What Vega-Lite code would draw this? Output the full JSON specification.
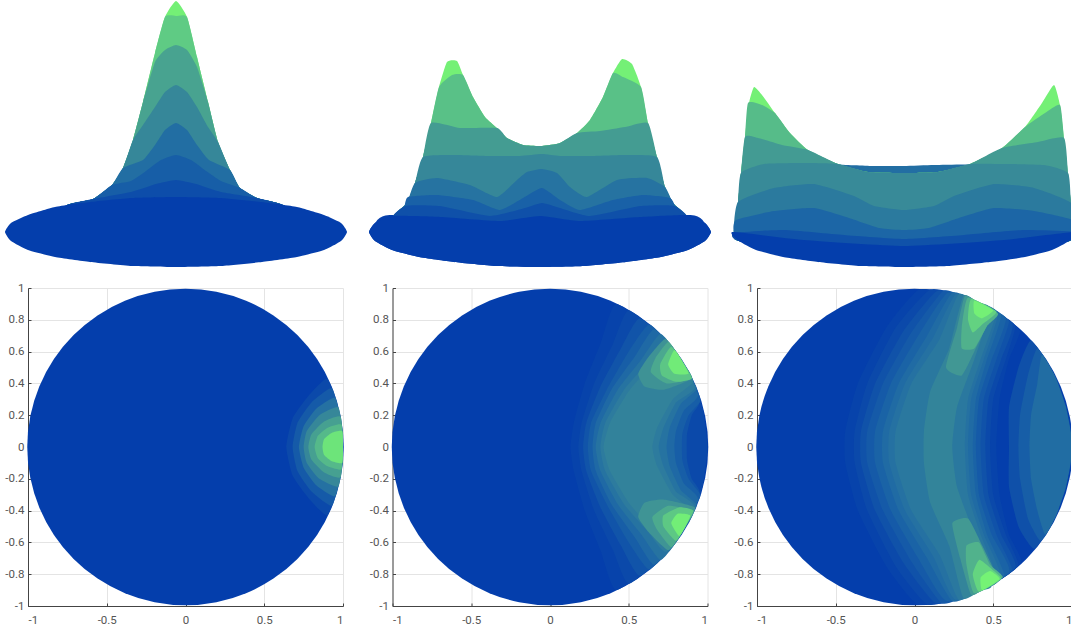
{"$schema":"https://vega.github.io/schema/vega-lite/v6.json","padding":{"left":4,"top":0,"right":0,"bottom":0},"background":"white","config":{"view":{"stroke":null},"concat":{"spacing":0},"axis":{"labelFont":"Roboto","labelFontSize":11.5,"labelColor":"#555555","gridColor":"#e4e4e4","gridWidth":1,"domainColor":"#444444","tickColor":"#444444","title":null}},
"datasets":{
"t1":[{"v":0.97,"x":0,"y":267},{"v":0.97,"x":11,"y":251},{"v":0.97,"x":21,"y":211},{"v":0.97,"x":32,"y":166},{"v":0.97,"x":42,"y":126},{"v":0.97,"x":54,"y":98},{"v":0.97,"x":64,"y":80},{"v":0.97,"x":81,"y":70},{"v":0.97,"x":107,"y":63},{"v":0.97,"x":115,"y":48},{"v":0.97,"x":0,"y":40},{"v":0.97,"x":-115,"y":48},{"v":0.97,"x":-109,"y":63},{"v":0.97,"x":-83,"y":69},{"v":0.97,"x":-64,"y":83},{"v":0.97,"x":-53,"y":100},{"v":0.97,"x":-43,"y":128},{"v":0.97,"x":-33,"y":166},{"v":0.97,"x":-21,"y":215},{"v":0.97,"x":-11,"y":251},
{"v":0.82,"x":-11,"y":251},{"v":0.82,"x":0,"y":252},{"v":0.82,"x":11,"y":251},{"v":0.82,"x":21,"y":211},{"v":0.82,"x":32,"y":166},{"v":0.82,"x":42,"y":126},{"v":0.82,"x":54,"y":98},{"v":0.82,"x":64,"y":80},{"v":0.82,"x":81,"y":70},{"v":0.82,"x":107,"y":63},{"v":0.82,"x":115,"y":48},{"v":0.82,"x":0,"y":40},{"v":0.82,"x":-115,"y":48},{"v":0.82,"x":-109,"y":63},{"v":0.82,"x":-83,"y":69},{"v":0.82,"x":-64,"y":83},{"v":0.82,"x":-53,"y":100},{"v":0.82,"x":-43,"y":128},{"v":0.82,"x":-33,"y":166},{"v":0.82,"x":-21,"y":215},
{"v":0.62,"x":-33,"y":166},{"v":0.62,"x":-21,"y":206},{"v":0.62,"x":-11,"y":218},{"v":0.62,"x":0,"y":223},{"v":0.62,"x":11,"y":218},{"v":0.62,"x":21,"y":201},{"v":0.62,"x":32,"y":166},{"v":0.62,"x":42,"y":126},{"v":0.62,"x":54,"y":98},{"v":0.62,"x":64,"y":80},{"v":0.62,"x":81,"y":70},{"v":0.62,"x":107,"y":63},{"v":0.62,"x":115,"y":48},{"v":0.62,"x":0,"y":40},{"v":0.62,"x":-115,"y":48},{"v":0.62,"x":-109,"y":63},{"v":0.62,"x":-83,"y":69},{"v":0.62,"x":-64,"y":83},{"v":0.62,"x":-53,"y":100},{"v":0.62,"x":-43,"y":128},
{"v":0.45,"x":-43,"y":128},{"v":0.45,"x":-33,"y":143},{"v":0.45,"x":-21,"y":161},{"v":0.45,"x":-11,"y":176},{"v":0.45,"x":0,"y":183},{"v":0.45,"x":11,"y":176},{"v":0.45,"x":21,"y":161},{"v":0.45,"x":32,"y":141},{"v":0.45,"x":42,"y":126},{"v":0.45,"x":54,"y":98},{"v":0.45,"x":64,"y":80},{"v":0.45,"x":81,"y":70},{"v":0.45,"x":107,"y":63},{"v":0.45,"x":115,"y":48},{"v":0.45,"x":0,"y":40},{"v":0.45,"x":-115,"y":48},{"v":0.45,"x":-109,"y":63},{"v":0.45,"x":-83,"y":69},{"v":0.45,"x":-64,"y":83},{"v":0.45,"x":-53,"y":100},
{"v":0.3,"x":-53,"y":100},{"v":0.3,"x":-33,"y":108},{"v":0.3,"x":-21,"y":123},{"v":0.3,"x":-11,"y":138},{"v":0.3,"x":0,"y":145},{"v":0.3,"x":11,"y":138},{"v":0.3,"x":21,"y":123},{"v":0.3,"x":33,"y":108},{"v":0.3,"x":54,"y":98},{"v":0.3,"x":64,"y":80},{"v":0.3,"x":81,"y":70},{"v":0.3,"x":107,"y":63},{"v":0.3,"x":115,"y":48},{"v":0.3,"x":0,"y":40},{"v":0.3,"x":-115,"y":48},{"v":0.3,"x":-109,"y":63},{"v":0.3,"x":-83,"y":69},{"v":0.3,"x":-64,"y":83},
{"v":0.2,"x":-64,"y":83},{"v":0.2,"x":-45,"y":87},{"v":0.2,"x":-30,"y":97},{"v":0.2,"x":-15,"y":108},{"v":0.2,"x":0,"y":113},{"v":0.2,"x":15,"y":108},{"v":0.2,"x":30,"y":97},{"v":0.2,"x":45,"y":87},{"v":0.2,"x":64,"y":80},{"v":0.2,"x":81,"y":70},{"v":0.2,"x":107,"y":63},{"v":0.2,"x":115,"y":48},{"v":0.2,"x":0,"y":40},{"v":0.2,"x":-115,"y":48},{"v":0.2,"x":-109,"y":63},{"v":0.2,"x":-83,"y":69},
{"v":0.1,"x":-83,"y":69},{"v":0.1,"x":-45,"y":76},{"v":0.1,"x":-20,"y":84},{"v":0.1,"x":0,"y":88},{"v":0.1,"x":20,"y":84},{"v":0.1,"x":45,"y":76},{"v":0.1,"x":81,"y":70},{"v":0.1,"x":107,"y":63},{"v":0.1,"x":115,"y":48},{"v":0.1,"x":0,"y":40},{"v":0.1,"x":-115,"y":48},{"v":0.1,"x":-109,"y":63},
{"v":0.05,"x":-109,"y":63},{"v":0.05,"x":-30,"y":68},{"v":0.05,"x":0,"y":71},{"v":0.05,"x":30,"y":68},{"v":0.05,"x":107,"y":63},{"v":0.05,"x":115,"y":48},{"v":0.05,"x":0,"y":40},{"v":0.05,"x":-115,"y":48},
{"v":0.01,"x":-171,"y":36},{"v":0.01,"x":-165,"y":45},{"v":0.01,"x":-148,"y":53},{"v":0.01,"x":-121,"y":61},{"v":0.01,"x":-86,"y":66},{"v":0.01,"x":-44,"y":70},{"v":0.01,"x":0,"y":71},{"v":0.01,"x":44,"y":70},{"v":0.01,"x":86,"y":66},{"v":0.01,"x":121,"y":61},{"v":0.01,"x":148,"y":53},{"v":0.01,"x":165,"y":45},{"v":0.01,"x":171,"y":36},{"v":0.01,"x":165,"y":27},{"v":0.01,"x":148,"y":18},{"v":0.01,"x":121,"y":11},{"v":0.01,"x":86,"y":6},{"v":0.01,"x":44,"y":2},{"v":0.01,"x":0,"y":1},{"v":0.01,"x":-44,"y":2},{"v":0.01,"x":-86,"y":6},{"v":0.01,"x":-121,"y":11},{"v":0.01,"x":-148,"y":18},{"v":0.01,"x":-165,"y":27}],
"t2":[{"v":0.02,"x":-171,"y":36},{"v":0.02,"x":-165,"y":45},{"v":0.02,"x":-148,"y":53},{"v":0.02,"x":0,"y":45},{"v":0.02,"x":148,"y":53},{"v":0.02,"x":165,"y":45},{"v":0.02,"x":171,"y":36},{"v":0.02,"x":165,"y":27},{"v":0.02,"x":148,"y":18},{"v":0.02,"x":121,"y":11},{"v":0.02,"x":86,"y":6},{"v":0.02,"x":44,"y":2},{"v":0.02,"x":0,"y":1},{"v":0.02,"x":-44,"y":2},{"v":0.02,"x":-86,"y":6},{"v":0.02,"x":-121,"y":11},{"v":0.02,"x":-148,"y":18},{"v":0.02,"x":-165,"y":27},
{"v":0.97,"x":-133,"y":65},{"v":0.97,"x":-125,"y":85},{"v":0.97,"x":-117,"y":111},{"v":0.97,"x":-109,"y":145},{"v":0.97,"x":-101,"y":181},{"v":0.97,"x":-93,"y":206},{"v":0.97,"x":-83,"y":207},{"v":0.97,"x":-77,"y":193},{"v":0.97,"x":-67,"y":171},{"v":0.97,"x":-55,"y":151},{"v":0.97,"x":-43,"y":140},{"v":0.97,"x":-33,"y":130},{"v":0.97,"x":-17,"y":123},{"v":0.97,"x":2,"y":122},{"v":0.97,"x":20,"y":125},{"v":0.97,"x":37,"y":135},{"v":0.97,"x":50,"y":148},{"v":0.97,"x":63,"y":171},{"v":0.97,"x":73,"y":195},{"v":0.97,"x":82,"y":209},{"v":0.97,"x":92,"y":204},{"v":0.97,"x":101,"y":181},{"v":0.97,"x":108,"y":145},{"v":0.97,"x":117,"y":111},{"v":0.97,"x":125,"y":81},{"v":0.97,"x":133,"y":65},{"v":0.97,"x":145,"y":45},{"v":0.97,"x":0,"y":30},{"v":0.97,"x":-145,"y":45},
{"v":0.78,"x":-133,"y":65},{"v":0.78,"x":-125,"y":85},{"v":0.78,"x":-117,"y":111},{"v":0.78,"x":-109,"y":145},{"v":0.78,"x":-101,"y":181},{"v":0.78,"x":-88,"y":193},{"v":0.78,"x":-77,"y":193},{"v":0.78,"x":-67,"y":171},{"v":0.78,"x":-55,"y":151},{"v":0.78,"x":-43,"y":140},{"v":0.78,"x":-33,"y":130},{"v":0.78,"x":-17,"y":123},{"v":0.78,"x":2,"y":122},{"v":0.78,"x":20,"y":125},{"v":0.78,"x":37,"y":135},{"v":0.78,"x":50,"y":148},{"v":0.78,"x":63,"y":171},{"v":0.78,"x":73,"y":195},{"v":0.78,"x":83,"y":191},{"v":0.78,"x":101,"y":181},{"v":0.78,"x":108,"y":145},{"v":0.78,"x":117,"y":111},{"v":0.78,"x":125,"y":81},{"v":0.78,"x":133,"y":65},{"v":0.78,"x":145,"y":45},{"v":0.78,"x":0,"y":30},{"v":0.78,"x":-145,"y":45},
{"v":0.58,"x":-133,"y":65},{"v":0.58,"x":-125,"y":85},{"v":0.58,"x":-117,"y":111},{"v":0.58,"x":-109,"y":145},{"v":0.58,"x":-80,"y":140},{"v":0.58,"x":-43,"y":140},{"v":0.58,"x":-33,"y":130},{"v":0.58,"x":-17,"y":123},{"v":0.58,"x":2,"y":122},{"v":0.58,"x":20,"y":125},{"v":0.58,"x":37,"y":135},{"v":0.58,"x":60,"y":137},{"v":0.58,"x":85,"y":141},{"v":0.58,"x":108,"y":145},{"v":0.58,"x":117,"y":111},{"v":0.58,"x":125,"y":81},{"v":0.58,"x":133,"y":65},{"v":0.58,"x":145,"y":45},{"v":0.58,"x":0,"y":30},{"v":0.58,"x":-145,"y":45},
{"v":0.45,"x":-133,"y":65},{"v":0.45,"x":-125,"y":85},{"v":0.45,"x":-117,"y":111},{"v":0.45,"x":-85,"y":113},{"v":0.45,"x":-50,"y":112},{"v":0.45,"x":-20,"y":112},{"v":0.45,"x":2,"y":114},{"v":0.45,"x":20,"y":112},{"v":0.45,"x":50,"y":112},{"v":0.45,"x":85,"y":113},{"v":0.45,"x":117,"y":111},{"v":0.45,"x":125,"y":81},{"v":0.45,"x":133,"y":65},{"v":0.45,"x":145,"y":45},{"v":0.45,"x":0,"y":30},{"v":0.45,"x":-145,"y":45},
{"v":0.33,"x":-133,"y":65},{"v":0.33,"x":-125,"y":85},{"v":0.33,"x":-103,"y":90},{"v":0.33,"x":-70,"y":83},{"v":0.33,"x":-43,"y":71},{"v":0.33,"x":-23,"y":88},{"v":0.33,"x":-13,"y":96},{"v":0.33,"x":2,"y":99},{"v":0.33,"x":17,"y":95},{"v":0.33,"x":30,"y":81},{"v":0.33,"x":47,"y":71},{"v":0.33,"x":77,"y":88},{"v":0.33,"x":107,"y":90},{"v":0.33,"x":125,"y":81},{"v":0.33,"x":133,"y":65},{"v":0.33,"x":145,"y":45},{"v":0.33,"x":0,"y":30},{"v":0.33,"x":-145,"y":45},
{"v":0.22,"x":-132,"y":71},{"v":0.22,"x":-103,"y":73},{"v":0.22,"x":-67,"y":68},{"v":0.22,"x":-40,"y":58},{"v":0.22,"x":-17,"y":70},{"v":0.22,"x":2,"y":80},{"v":0.22,"x":20,"y":68},{"v":0.22,"x":40,"y":58},{"v":0.22,"x":73,"y":68},{"v":0.22,"x":103,"y":73},{"v":0.22,"x":130,"y":70},{"v":0.22,"x":136,"y":60},{"v":0.22,"x":145,"y":45},{"v":0.22,"x":0,"y":30},{"v":0.22,"x":-145,"y":45},{"v":0.22,"x":-136,"y":60},
{"v":0.12,"x":-135,"y":62},{"v":0.12,"x":-100,"y":62},{"v":0.12,"x":-50,"y":52},{"v":0.12,"x":-15,"y":60},{"v":0.12,"x":2,"y":65},{"v":0.12,"x":20,"y":60},{"v":0.12,"x":50,"y":52},{"v":0.12,"x":100,"y":62},{"v":0.12,"x":135,"y":62},{"v":0.12,"x":145,"y":45},{"v":0.12,"x":0,"y":30},{"v":0.12,"x":-145,"y":45},
{"v":0.01,"x":-171,"y":36},{"v":0.01,"x":-165,"y":45},{"v":0.01,"x":-147,"y":52},{"v":0.01,"x":-100,"y":51},{"v":0.01,"x":-40,"y":47},{"v":0.01,"x":0,"y":52},{"v":0.01,"x":40,"y":47},{"v":0.01,"x":100,"y":51},{"v":0.01,"x":147,"y":53},{"v":0.01,"x":165,"y":45},{"v":0.01,"x":171,"y":36},{"v":0.01,"x":165,"y":27},{"v":0.01,"x":148,"y":18},{"v":0.01,"x":121,"y":11},{"v":0.01,"x":86,"y":6},{"v":0.01,"x":44,"y":2},{"v":0.01,"x":0,"y":1},{"v":0.01,"x":-44,"y":2},{"v":0.01,"x":-86,"y":6},{"v":0.01,"x":-121,"y":11},{"v":0.01,"x":-148,"y":18},{"v":0.01,"x":-165,"y":27}],
"t3":[{"v":0.3,"x":-70,"y":103},{"v":0.3,"x":-30,"y":102},{"v":0.3,"x":0,"y":102},{"v":0.3,"x":30,"y":103},{"v":0.3,"x":70,"y":103},{"v":0.3,"x":0,"y":90},
{"v":0.97,"x":-170,"y":35},{"v":0.97,"x":-166,"y":66},{"v":0.97,"x":-163,"y":95},{"v":0.97,"x":-159,"y":131},{"v":0.97,"x":-155,"y":165},{"v":0.97,"x":-150,"y":181},{"v":0.97,"x":-142,"y":173},{"v":0.97,"x":-129,"y":155},{"v":0.97,"x":-114,"y":135},{"v":0.97,"x":-96,"y":118},{"v":0.97,"x":-66,"y":104},{"v":0.97,"x":-36,"y":96},{"v":0.97,"x":1,"y":95},{"v":0.97,"x":34,"y":96},{"v":0.97,"x":66,"y":104},{"v":0.97,"x":98,"y":120},{"v":0.97,"x":121,"y":141},{"v":0.97,"x":138,"y":165},{"v":0.97,"x":150,"y":183},{"v":0.97,"x":156,"y":163},{"v":0.97,"x":160,"y":130},{"v":0.97,"x":164,"y":95},{"v":0.97,"x":167,"y":65},{"v":0.97,"x":171,"y":36},{"v":0.97,"x":160,"y":26},{"v":0.97,"x":0,"y":15},{"v":0.97,"x":-160,"y":26},
{"v":0.76,"x":-170,"y":35},{"v":0.76,"x":-166,"y":66},{"v":0.76,"x":-163,"y":95},{"v":0.76,"x":-159,"y":131},{"v":0.76,"x":-156,"y":165},{"v":0.76,"x":-142,"y":163},{"v":0.76,"x":-129,"y":155},{"v":0.76,"x":-114,"y":135},{"v":0.76,"x":-96,"y":118},{"v":0.76,"x":-66,"y":104},{"v":0.76,"x":-36,"y":96},{"v":0.76,"x":1,"y":95},{"v":0.76,"x":34,"y":96},{"v":0.76,"x":66,"y":104},{"v":0.76,"x":98,"y":120},{"v":0.76,"x":121,"y":141},{"v":0.76,"x":141,"y":155},{"v":0.76,"x":156,"y":163},{"v":0.76,"x":160,"y":130},{"v":0.76,"x":164,"y":95},{"v":0.76,"x":167,"y":65},{"v":0.76,"x":171,"y":36},{"v":0.76,"x":160,"y":26},{"v":0.76,"x":0,"y":15},{"v":0.76,"x":-160,"y":26},
{"v":0.57,"x":-170,"y":35},{"v":0.57,"x":-166,"y":66},{"v":0.57,"x":-163,"y":95},{"v":0.57,"x":-159,"y":131},{"v":0.57,"x":-146,"y":130},{"v":0.57,"x":-122,"y":123},{"v":0.57,"x":-96,"y":118},{"v":0.57,"x":-66,"y":104},{"v":0.57,"x":-36,"y":96},{"v":0.57,"x":1,"y":95},{"v":0.57,"x":34,"y":96},{"v":0.57,"x":66,"y":104},{"v":0.57,"x":98,"y":120},{"v":0.57,"x":134,"y":126},{"v":0.57,"x":160,"y":130},{"v":0.57,"x":164,"y":95},{"v":0.57,"x":167,"y":65},{"v":0.57,"x":171,"y":36},{"v":0.57,"x":160,"y":26},{"v":0.57,"x":0,"y":15},{"v":0.57,"x":-160,"y":26},
{"v":0.47,"x":-170,"y":35},{"v":0.47,"x":-166,"y":66},{"v":0.47,"x":-163,"y":95},{"v":0.47,"x":-140,"y":104},{"v":0.47,"x":-100,"y":105},{"v":0.47,"x":-66,"y":104},{"v":0.47,"x":-36,"y":96},{"v":0.47,"x":1,"y":95},{"v":0.47,"x":34,"y":96},{"v":0.47,"x":66,"y":104},{"v":0.47,"x":100,"y":104},{"v":0.47,"x":140,"y":103},{"v":0.47,"x":164,"y":95},{"v":0.47,"x":167,"y":65},{"v":0.47,"x":171,"y":36},{"v":0.47,"x":160,"y":26},{"v":0.47,"x":0,"y":15},{"v":0.47,"x":-160,"y":26},
{"v":0.37,"x":-170,"y":35},{"v":0.37,"x":-166,"y":66},{"v":0.37,"x":-130,"y":80},{"v":0.37,"x":-90,"y":84},{"v":0.37,"x":-50,"y":72},{"v":0.37,"x":-30,"y":62},{"v":0.37,"x":0,"y":58},{"v":0.37,"x":30,"y":62},{"v":0.37,"x":50,"y":72},{"v":0.37,"x":90,"y":84},{"v":0.37,"x":130,"y":80},{"v":0.37,"x":167,"y":65},{"v":0.37,"x":171,"y":36},{"v":0.37,"x":160,"y":26},{"v":0.37,"x":0,"y":15},{"v":0.37,"x":-160,"y":26},
{"v":0.25,"x":-170,"y":35},{"v":0.25,"x":-168,"y":48},{"v":0.25,"x":-130,"y":57},{"v":0.25,"x":-90,"y":60},{"v":0.25,"x":-55,"y":50},{"v":0.25,"x":-25,"y":40},{"v":0.25,"x":0,"y":38},{"v":0.25,"x":25,"y":40},{"v":0.25,"x":55,"y":50},{"v":0.25,"x":90,"y":60},{"v":0.25,"x":130,"y":57},{"v":0.25,"x":169,"y":48},{"v":0.25,"x":171,"y":36},{"v":0.25,"x":160,"y":26},{"v":0.25,"x":0,"y":15},{"v":0.25,"x":-160,"y":26},
{"v":0.13,"x":-170,"y":35},{"v":0.13,"x":-120,"y":38},{"v":0.13,"x":-60,"y":33},{"v":0.13,"x":0,"y":29},{"v":0.13,"x":60,"y":33},{"v":0.13,"x":120,"y":38},{"v":0.13,"x":171,"y":36},{"v":0.13,"x":160,"y":26},{"v":0.13,"x":0,"y":15},{"v":0.13,"x":-160,"y":26},
{"v":0.01,"x":-171,"y":36},{"v":0.01,"x":-100,"y":28},{"v":0.01,"x":0,"y":22},{"v":0.01,"x":100,"y":28},{"v":0.01,"x":171,"y":36},{"v":0.01,"x":165,"y":27},{"v":0.01,"x":148,"y":18},{"v":0.01,"x":121,"y":11},{"v":0.01,"x":86,"y":6},{"v":0.01,"x":44,"y":2},{"v":0.01,"x":0,"y":1},{"v":0.01,"x":-44,"y":2},{"v":0.01,"x":-86,"y":6},{"v":0.01,"x":-121,"y":11},{"v":0.01,"x":-148,"y":18},{"v":0.01,"x":-165,"y":27}],
"d":[{"v":0.01,"x":0,"y":0}],
"h1":[{"v":0.08,"x":0.9,"y":0.43},{"v":0.08,"x":0.78,"y":0.32},{"v":0.08,"x":0.68,"y":0.18},{"v":0.08,"x":0.64,"y":0},{"v":0.08,"x":0.68,"y":-0.18},{"v":0.08,"x":0.78,"y":-0.32},{"v":0.08,"x":0.9,"y":-0.43},{"v":0.08,"x":0.97,"y":-0.24},{"v":0.08,"x":1,"y":0},{"v":0.08,"x":0.97,"y":0.24},
{"v":0.18,"x":0.93,"y":0.37},{"v":0.18,"x":0.8,"y":0.28},{"v":0.18,"x":0.71,"y":0.15},{"v":0.18,"x":0.68,"y":0},{"v":0.18,"x":0.71,"y":-0.15},{"v":0.18,"x":0.8,"y":-0.28},{"v":0.18,"x":0.93,"y":-0.37},{"v":0.18,"x":0.98,"y":-0.19},{"v":0.18,"x":1,"y":0},{"v":0.18,"x":0.98,"y":0.19},
{"v":0.32,"x":0.95,"y":0.31},{"v":0.32,"x":0.83,"y":0.24},{"v":0.32,"x":0.75,"y":0.13},{"v":0.32,"x":0.72,"y":0},{"v":0.32,"x":0.75,"y":-0.13},{"v":0.32,"x":0.83,"y":-0.24},{"v":0.32,"x":0.95,"y":-0.31},{"v":0.32,"x":0.99,"y":-0.14},{"v":0.32,"x":1,"y":0},{"v":0.32,"x":0.99,"y":0.14},
{"v":0.45,"x":0.97,"y":0.25},{"v":0.45,"x":0.85,"y":0.2},{"v":0.45,"x":0.77,"y":0.1},{"v":0.45,"x":0.75,"y":0},{"v":0.45,"x":0.77,"y":-0.1},{"v":0.45,"x":0.85,"y":-0.2},{"v":0.45,"x":0.97,"y":-0.25},{"v":0.45,"x":0.995,"y":-0.1},{"v":0.45,"x":1,"y":0},{"v":0.45,"x":0.995,"y":0.1},
{"v":0.6,"x":0.985,"y":0.19},{"v":0.6,"x":0.88,"y":0.16},{"v":0.6,"x":0.8,"y":0.08},{"v":0.6,"x":0.78,"y":0},{"v":0.6,"x":0.8,"y":-0.08},{"v":0.6,"x":0.88,"y":-0.16},{"v":0.6,"x":0.985,"y":-0.19},{"v":0.6,"x":1,"y":0},
{"v":0.75,"x":0.99,"y":0.14},{"v":0.75,"x":0.9,"y":0.12},{"v":0.75,"x":0.84,"y":0.07},{"v":0.75,"x":0.82,"y":0},{"v":0.75,"x":0.84,"y":-0.07},{"v":0.75,"x":0.9,"y":-0.12},{"v":0.75,"x":0.99,"y":-0.14},{"v":0.75,"x":1,"y":0},
{"v":0.92,"x":0.995,"y":0.1},{"v":0.92,"x":0.93,"y":0.09},{"v":0.92,"x":0.88,"y":0.05},{"v":0.92,"x":0.87,"y":0},{"v":0.92,"x":0.88,"y":-0.05},{"v":0.92,"x":0.93,"y":-0.09},{"v":0.92,"x":0.995,"y":-0.1},{"v":0.92,"x":1,"y":0}],
"h2":[{"v":0.04,"x":0.42,"y":0.9},{"v":0.04,"x":0.32,"y":0.65},{"v":0.04,"x":0.22,"y":0.4},{"v":0.04,"x":0.15,"y":0.15},{"v":0.04,"x":0.13,"y":0},{"v":0.04,"x":0.15,"y":-0.15},{"v":0.04,"x":0.22,"y":-0.4},{"v":0.04,"x":0.32,"y":-0.65},{"v":0.04,"x":0.42,"y":-0.9},{"v":0.04,"x":0.72,"y":-0.69},{"v":0.04,"x":0.9,"y":-0.43},{"v":0.04,"x":0.97,"y":-0.24},{"v":0.04,"x":1,"y":0},{"v":0.04,"x":0.97,"y":0.24},{"v":0.04,"x":0.9,"y":0.43},{"v":0.04,"x":0.72,"y":0.69},
{"v":0.08,"x":0.5,"y":0.86},{"v":0.08,"x":0.4,"y":0.65},{"v":0.08,"x":0.28,"y":0.4},{"v":0.08,"x":0.2,"y":0.15},{"v":0.08,"x":0.18,"y":0},{"v":0.08,"x":0.2,"y":-0.15},{"v":0.08,"x":0.28,"y":-0.4},{"v":0.08,"x":0.4,"y":-0.65},{"v":0.08,"x":0.5,"y":-0.86},{"v":0.08,"x":0.75,"y":-0.66},{"v":0.08,"x":0.9,"y":-0.43},{"v":0.08,"x":0.97,"y":-0.24},{"v":0.08,"x":1,"y":0},{"v":0.08,"x":0.97,"y":0.24},{"v":0.08,"x":0.9,"y":0.43},{"v":0.08,"x":0.75,"y":0.66},
{"v":0.14,"x":0.57,"y":0.81},{"v":0.14,"x":0.45,"y":0.62},{"v":0.14,"x":0.32,"y":0.38},{"v":0.14,"x":0.23,"y":0.15},{"v":0.14,"x":0.21,"y":0},{"v":0.14,"x":0.23,"y":-0.15},{"v":0.14,"x":0.32,"y":-0.38},{"v":0.14,"x":0.45,"y":-0.62},{"v":0.14,"x":0.57,"y":-0.81},{"v":0.14,"x":0.78,"y":-0.62},{"v":0.14,"x":0.95,"y":-0.3},{"v":0.14,"x":0.9,"y":-0.2},{"v":0.14,"x":0.87,"y":-0.08},{"v":0.14,"x":0.87,"y":0.08},{"v":0.14,"x":0.9,"y":0.2},{"v":0.14,"x":0.95,"y":0.3},{"v":0.14,"x":0.78,"y":0.62},
{"v":0.2,"x":0.63,"y":0.77},{"v":0.2,"x":0.5,"y":0.6},{"v":0.2,"x":0.36,"y":0.36},{"v":0.2,"x":0.26,"y":0.15},{"v":0.2,"x":0.24,"y":0},{"v":0.2,"x":0.26,"y":-0.15},{"v":0.2,"x":0.36,"y":-0.36},{"v":0.2,"x":0.5,"y":-0.6},{"v":0.2,"x":0.63,"y":-0.77},{"v":0.2,"x":0.78,"y":-0.62},{"v":0.2,"x":0.92,"y":-0.38},{"v":0.2,"x":0.955,"y":-0.3},{"v":0.2,"x":0.88,"y":-0.2},{"v":0.2,"x":0.84,"y":-0.08},{"v":0.2,"x":0.84,"y":0.08},{"v":0.2,"x":0.88,"y":0.2},{"v":0.2,"x":0.955,"y":0.29},{"v":0.2,"x":0.92,"y":0.39},{"v":0.2,"x":0.78,"y":0.62},
{"v":0.27,"x":0.66,"y":0.74},{"v":0.27,"x":0.54,"y":0.57},{"v":0.27,"x":0.39,"y":0.36},{"v":0.27,"x":0.29,"y":0.15},{"v":0.27,"x":0.27,"y":0},{"v":0.27,"x":0.29,"y":-0.15},{"v":0.27,"x":0.39,"y":-0.36},{"v":0.27,"x":0.54,"y":-0.57},{"v":0.27,"x":0.66,"y":-0.74},{"v":0.27,"x":0.8,"y":-0.59},{"v":0.27,"x":0.94,"y":-0.33},{"v":0.27,"x":0.85,"y":-0.23},{"v":0.27,"x":0.8,"y":-0.1},{"v":0.27,"x":0.79,"y":0},{"v":0.27,"x":0.8,"y":0.1},{"v":0.27,"x":0.85,"y":0.23},{"v":0.27,"x":0.94,"y":0.33},{"v":0.27,"x":0.8,"y":0.59},
{"v":0.33,"x":0.7,"y":0.71},{"v":0.33,"x":0.58,"y":0.55},{"v":0.33,"x":0.43,"y":0.36},{"v":0.33,"x":0.32,"y":0.15},{"v":0.33,"x":0.29,"y":0},{"v":0.33,"x":0.32,"y":-0.15},{"v":0.33,"x":0.43,"y":-0.36},{"v":0.33,"x":0.58,"y":-0.55},{"v":0.33,"x":0.7,"y":-0.71},{"v":0.33,"x":0.8,"y":-0.6},{"v":0.33,"x":0.9,"y":-0.43},{"v":0.33,"x":0.93,"y":-0.36},{"v":0.33,"x":0.83,"y":-0.27},{"v":0.33,"x":0.76,"y":-0.12},{"v":0.33,"x":0.74,"y":0},{"v":0.33,"x":0.76,"y":0.12},{"v":0.33,"x":0.83,"y":0.27},{"v":0.33,"x":0.93,"y":0.36},{"v":0.33,"x":0.9,"y":0.43},{"v":0.33,"x":0.8,"y":0.6},
{"v":0.38,"x":0.74,"y":0.66},{"v":0.38,"x":0.62,"y":0.53},{"v":0.38,"x":0.47,"y":0.36},{"v":0.38,"x":0.35,"y":0.15},{"v":0.38,"x":0.32,"y":0},{"v":0.38,"x":0.35,"y":-0.15},{"v":0.38,"x":0.47,"y":-0.36},{"v":0.38,"x":0.62,"y":-0.53},{"v":0.38,"x":0.74,"y":-0.66},{"v":0.38,"x":0.92,"y":-0.38},{"v":0.38,"x":0.8,"y":-0.28},{"v":0.38,"x":0.72,"y":-0.12},{"v":0.38,"x":0.69,"y":0},{"v":0.38,"x":0.72,"y":0.12},{"v":0.38,"x":0.8,"y":0.28},{"v":0.38,"x":0.92,"y":0.38},
{"v":0.42,"x":0.78,"y":0.62},{"v":0.42,"x":0.65,"y":0.52},{"v":0.42,"x":0.5,"y":0.35},{"v":0.42,"x":0.38,"y":0.15},{"v":0.42,"x":0.34,"y":0},{"v":0.42,"x":0.38,"y":-0.15},{"v":0.42,"x":0.5,"y":-0.35},{"v":0.42,"x":0.65,"y":-0.52},{"v":0.42,"x":0.78,"y":-0.62},{"v":0.42,"x":0.85,"y":-0.52},{"v":0.42,"x":0.91,"y":-0.41},{"v":0.42,"x":0.78,"y":-0.3},{"v":0.42,"x":0.68,"y":-0.12},{"v":0.42,"x":0.65,"y":0},{"v":0.42,"x":0.68,"y":0.12},{"v":0.42,"x":0.78,"y":0.3},{"v":0.42,"x":0.91,"y":0.41},{"v":0.42,"x":0.85,"y":0.52},
{"v":0.52,"x":0.73,"y":0.68},{"v":0.52,"x":0.62,"y":0.56},{"v":0.52,"x":0.56,"y":0.46},{"v":0.52,"x":0.6,"y":0.38},{"v":0.52,"x":0.72,"y":0.36},{"v":0.52,"x":0.9,"y":0.43},{"v":0.52,"x":0.86,"y":0.51},{"v":0.52,"x":0.8,"y":0.6},
{"v":0.65,"x":0.75,"y":0.66},{"v":0.65,"x":0.67,"y":0.56},{"v":0.65,"x":0.64,"y":0.47},{"v":0.65,"x":0.74,"y":0.4},{"v":0.65,"x":0.9,"y":0.43},{"v":0.65,"x":0.86,"y":0.51},{"v":0.65,"x":0.8,"y":0.6},
{"v":0.8,"x":0.77,"y":0.63},{"v":0.8,"x":0.7,"y":0.52},{"v":0.8,"x":0.71,"y":0.45},{"v":0.8,"x":0.8,"y":0.41},{"v":0.8,"x":0.9,"y":0.43},{"v":0.8,"x":0.85,"y":0.52},
{"v":0.95,"x":0.79,"y":0.61},{"v":0.95,"x":0.75,"y":0.52},{"v":0.95,"x":0.79,"y":0.46},{"v":0.95,"x":0.88,"y":0.46},{"v":0.95,"x":0.84,"y":0.54},
{"v":0.53,"x":0.75,"y":-0.65},{"v":0.53,"x":0.63,"y":-0.54},{"v":0.53,"x":0.56,"y":-0.44},{"v":0.53,"x":0.6,"y":-0.35},{"v":0.53,"x":0.72,"y":-0.33},{"v":0.53,"x":0.92,"y":-0.38},{"v":0.53,"x":0.87,"y":-0.48},{"v":0.53,"x":0.82,"y":-0.56},
{"v":0.66,"x":0.77,"y":-0.63},{"v":0.66,"x":0.68,"y":-0.52},{"v":0.66,"x":0.65,"y":-0.44},{"v":0.66,"x":0.75,"y":-0.37},{"v":0.66,"x":0.91,"y":-0.4},{"v":0.66,"x":0.87,"y":-0.48},{"v":0.66,"x":0.82,"y":-0.56},
{"v":0.81,"x":0.8,"y":-0.59},{"v":0.81,"x":0.72,"y":-0.5},{"v":0.81,"x":0.72,"y":-0.43},{"v":0.81,"x":0.82,"y":-0.38},{"v":0.81,"x":0.91,"y":-0.4},{"v":0.81,"x":0.86,"y":-0.5},
{"v":0.96,"x":0.82,"y":-0.56},{"v":0.96,"x":0.77,"y":-0.48},{"v":0.96,"x":0.81,"y":-0.42},{"v":0.96,"x":0.89,"y":-0.43},{"v":0.96,"x":0.86,"y":-0.5}],
"h3":[{"v":0.12,"x":0.74,"y":0.67},{"v":0.12,"x":0.66,"y":0.5},{"v":0.12,"x":0.6,"y":0.25},{"v":0.12,"x":0.6,"y":0},{"v":0.12,"x":0.6,"y":-0.25},{"v":0.12,"x":0.66,"y":-0.5},{"v":0.12,"x":0.76,"y":-0.64},{"v":0.12,"x":0.88,"y":-0.47},{"v":0.12,"x":0.97,"y":-0.2},{"v":0.12,"x":1,"y":0},{"v":0.12,"x":0.97,"y":0.2},{"v":0.12,"x":0.88,"y":0.47},
{"v":0.2,"x":0.78,"y":0.62},{"v":0.2,"x":0.72,"y":0.45},{"v":0.2,"x":0.67,"y":0.2},{"v":0.2,"x":0.66,"y":0},{"v":0.2,"x":0.67,"y":-0.2},{"v":0.2,"x":0.72,"y":-0.45},{"v":0.2,"x":0.8,"y":-0.59},{"v":0.2,"x":0.88,"y":-0.47},{"v":0.2,"x":0.97,"y":-0.2},{"v":0.2,"x":1,"y":0},{"v":0.2,"x":0.97,"y":0.2},{"v":0.2,"x":0.88,"y":0.47},
{"v":0.29,"x":0.81,"y":0.58},{"v":0.29,"x":0.78,"y":0.4},{"v":0.29,"x":0.74,"y":0.2},{"v":0.29,"x":0.73,"y":0},{"v":0.29,"x":0.74,"y":-0.2},{"v":0.29,"x":0.78,"y":-0.4},{"v":0.29,"x":0.83,"y":-0.55},{"v":0.29,"x":0.9,"y":-0.43},{"v":0.29,"x":0.96,"y":-0.26},{"v":0.29,"x":0.995,"y":-0.08},{"v":0.29,"x":0.995,"y":0.08},{"v":0.29,"x":0.96,"y":0.26},{"v":0.29,"x":0.9,"y":0.43},
{"v":0.04,"x":0.03,"y":0.99},{"v":0.04,"x":-0.18,"y":0.75},{"v":0.04,"x":-0.36,"y":0.4},{"v":0.04,"x":-0.44,"y":0.1},{"v":0.04,"x":-0.44,"y":-0.1},{"v":0.04,"x":-0.36,"y":-0.4},{"v":0.04,"x":-0.18,"y":-0.75},{"v":0.04,"x":0.02,"y":-0.99},{"v":0.04,"x":0.3,"y":-0.95},{"v":0.04,"x":0.55,"y":-0.83},{"v":0.04,"x":0.68,"y":-0.72},{"v":0.04,"x":0.6,"y":-0.55},{"v":0.04,"x":0.54,"y":-0.3},{"v":0.04,"x":0.52,"y":0},{"v":0.04,"x":0.54,"y":0.3},{"v":0.04,"x":0.6,"y":0.55},{"v":0.04,"x":0.67,"y":0.73},{"v":0.04,"x":0.55,"y":0.83},{"v":0.04,"x":0.3,"y":0.95},
{"v":0.08,"x":0.1,"y":0.99},{"v":0.08,"x":-0.12,"y":0.75},{"v":0.08,"x":-0.3,"y":0.4},{"v":0.08,"x":-0.38,"y":0.1},{"v":0.08,"x":-0.38,"y":-0.1},{"v":0.08,"x":-0.3,"y":-0.4},{"v":0.08,"x":-0.12,"y":-0.75},{"v":0.08,"x":0.08,"y":-0.99},{"v":0.08,"x":0.3,"y":-0.95},{"v":0.08,"x":0.55,"y":-0.83},{"v":0.08,"x":0.66,"y":-0.74},{"v":0.08,"x":0.58,"y":-0.55},{"v":0.08,"x":0.5,"y":-0.3},{"v":0.08,"x":0.48,"y":0},{"v":0.08,"x":0.5,"y":0.3},{"v":0.08,"x":0.58,"y":0.55},{"v":0.08,"x":0.64,"y":0.76},{"v":0.08,"x":0.55,"y":0.83},{"v":0.08,"x":0.3,"y":0.95},
{"v":0.13,"x":0.14,"y":0.98},{"v":0.13,"x":-0.07,"y":0.73},{"v":0.13,"x":-0.25,"y":0.4},{"v":0.13,"x":-0.34,"y":0.1},{"v":0.13,"x":-0.34,"y":-0.1},{"v":0.13,"x":-0.25,"y":-0.4},{"v":0.13,"x":-0.07,"y":-0.73},{"v":0.13,"x":0.13,"y":-0.98},{"v":0.13,"x":0.3,"y":-0.95},{"v":0.13,"x":0.64,"y":-0.76},{"v":0.13,"x":0.55,"y":-0.55},{"v":0.13,"x":0.47,"y":-0.3},{"v":0.13,"x":0.45,"y":0},{"v":0.13,"x":0.47,"y":0.3},{"v":0.13,"x":0.55,"y":0.55},{"v":0.13,"x":0.62,"y":0.78},{"v":0.13,"x":0.3,"y":0.95},
{"v":0.18,"x":0.18,"y":0.98},{"v":0.18,"x":-0.02,"y":0.72},{"v":0.18,"x":-0.2,"y":0.4},{"v":0.18,"x":-0.3,"y":0.1},{"v":0.18,"x":-0.3,"y":-0.1},{"v":0.18,"x":-0.2,"y":-0.4},{"v":0.18,"x":-0.02,"y":-0.72},{"v":0.18,"x":0.17,"y":-0.98},{"v":0.18,"x":0.3,"y":-0.95},{"v":0.18,"x":0.5,"y":-0.86},{"v":0.18,"x":0.62,"y":-0.77},{"v":0.18,"x":0.52,"y":-0.55},{"v":0.18,"x":0.44,"y":-0.3},{"v":0.18,"x":0.42,"y":0},{"v":0.18,"x":0.44,"y":0.3},{"v":0.18,"x":0.52,"y":0.55},{"v":0.18,"x":0.6,"y":0.79},{"v":0.18,"x":0.5,"y":0.86},{"v":0.18,"x":0.3,"y":0.95},
{"v":0.23,"x":0.21,"y":0.97},{"v":0.23,"x":0.03,"y":0.71},{"v":0.23,"x":-0.15,"y":0.4},{"v":0.23,"x":-0.25,"y":0.1},{"v":0.23,"x":-0.25,"y":-0.1},{"v":0.23,"x":-0.15,"y":-0.4},{"v":0.23,"x":0.03,"y":-0.71},{"v":0.23,"x":0.21,"y":-0.97},{"v":0.23,"x":0.6,"y":-0.79},{"v":0.23,"x":0.49,"y":-0.55},{"v":0.23,"x":0.41,"y":-0.3},{"v":0.23,"x":0.39,"y":0},{"v":0.23,"x":0.41,"y":0.3},{"v":0.23,"x":0.49,"y":0.55},{"v":0.23,"x":0.58,"y":0.81},{"v":0.23,"x":0.4,"y":0.91},
{"v":0.28,"x":0.24,"y":0.97},{"v":0.28,"x":0.08,"y":0.7},{"v":0.28,"x":-0.1,"y":0.4},{"v":0.28,"x":-0.2,"y":0.1},{"v":0.28,"x":-0.2,"y":-0.1},{"v":0.28,"x":-0.1,"y":-0.4},{"v":0.28,"x":0.08,"y":-0.7},{"v":0.28,"x":0.24,"y":-0.97},{"v":0.28,"x":0.4,"y":-0.91},{"v":0.28,"x":0.57,"y":-0.81},{"v":0.28,"x":0.46,"y":-0.55},{"v":0.28,"x":0.39,"y":-0.3},{"v":0.28,"x":0.37,"y":0},{"v":0.28,"x":0.39,"y":0.3},{"v":0.28,"x":0.46,"y":0.55},{"v":0.28,"x":0.55,"y":0.83},{"v":0.28,"x":0.4,"y":0.91},
{"v":0.32,"x":0.26,"y":0.96},{"v":0.32,"x":0.12,"y":0.69},{"v":0.32,"x":-0.06,"y":0.4},{"v":0.32,"x":-0.16,"y":0.1},{"v":0.32,"x":-0.16,"y":-0.1},{"v":0.32,"x":-0.06,"y":-0.4},{"v":0.32,"x":0.12,"y":-0.69},{"v":0.32,"x":0.26,"y":-0.96},{"v":0.32,"x":0.55,"y":-0.83},{"v":0.32,"x":0.44,"y":-0.55},{"v":0.32,"x":0.36,"y":-0.3},{"v":0.32,"x":0.34,"y":0},{"v":0.32,"x":0.36,"y":0.3},{"v":0.32,"x":0.44,"y":0.55},{"v":0.32,"x":0.53,"y":0.84},{"v":0.32,"x":0.4,"y":0.91},
{"v":0.36,"x":0.28,"y":0.96},{"v":0.36,"x":0.16,"y":0.68},{"v":0.36,"x":-0.02,"y":0.4},{"v":0.36,"x":-0.12,"y":0.1},{"v":0.36,"x":-0.12,"y":-0.1},{"v":0.36,"x":-0.02,"y":-0.4},{"v":0.36,"x":0.16,"y":-0.68},{"v":0.36,"x":0.28,"y":-0.96},{"v":0.36,"x":0.42,"y":-0.9},{"v":0.36,"x":0.53,"y":-0.84},{"v":0.36,"x":0.42,"y":-0.55},{"v":0.36,"x":0.34,"y":-0.3},{"v":0.36,"x":0.32,"y":0},{"v":0.36,"x":0.34,"y":0.3},{"v":0.36,"x":0.42,"y":0.55},{"v":0.36,"x":0.52,"y":0.85},{"v":0.36,"x":0.4,"y":0.91},
{"v":0.43,"x":0.31,"y":0.95},{"v":0.43,"x":0.22,"y":0.62},{"v":0.43,"x":0.1,"y":0.35},{"v":0.43,"x":0.06,"y":0.1},{"v":0.43,"x":0.06,"y":-0.1},{"v":0.43,"x":0.1,"y":-0.35},{"v":0.43,"x":0.22,"y":-0.62},{"v":0.43,"x":0.31,"y":-0.95},{"v":0.43,"x":0.42,"y":-0.9},{"v":0.43,"x":0.49,"y":-0.87},{"v":0.43,"x":0.38,"y":-0.55},{"v":0.43,"x":0.27,"y":-0.25},{"v":0.43,"x":0.24,"y":0},{"v":0.43,"x":0.27,"y":0.25},{"v":0.43,"x":0.38,"y":0.55},{"v":0.43,"x":0.48,"y":0.87},{"v":0.43,"x":0.4,"y":0.91},
{"v":0.55,"x":0.32,"y":0.95},{"v":0.55,"x":0.27,"y":0.75},{"v":0.55,"x":0.2,"y":0.5},{"v":0.55,"x":0.3,"y":0.45},{"v":0.55,"x":0.38,"y":0.6},{"v":0.55,"x":0.5,"y":0.86},{"v":0.55,"x":0.4,"y":0.91},
{"v":0.7,"x":0.34,"y":0.94},{"v":0.7,"x":0.3,"y":0.75},{"v":0.7,"x":0.3,"y":0.62},{"v":0.7,"x":0.38,"y":0.62},{"v":0.7,"x":0.46,"y":0.76},{"v":0.7,"x":0.53,"y":0.84},
{"v":0.85,"x":0.36,"y":0.93},{"v":0.85,"x":0.34,"y":0.8},{"v":0.85,"x":0.37,"y":0.72},{"v":0.85,"x":0.43,"y":0.77},{"v":0.85,"x":0.52,"y":0.85},
{"v":0.97,"x":0.38,"y":0.92},{"v":0.97,"x":0.38,"y":0.84},{"v":0.97,"x":0.43,"y":0.81},{"v":0.97,"x":0.5,"y":0.86},
{"v":0.56,"x":0.36,"y":-0.93},{"v":0.56,"x":0.29,"y":-0.7},{"v":0.56,"x":0.24,"y":-0.48},{"v":0.56,"x":0.34,"y":-0.45},{"v":0.56,"x":0.43,"y":-0.62},{"v":0.56,"x":0.53,"y":-0.84},{"v":0.56,"x":0.44,"y":-0.89},
{"v":0.71,"x":0.38,"y":-0.92},{"v":0.71,"x":0.33,"y":-0.74},{"v":0.71,"x":0.33,"y":-0.62},{"v":0.71,"x":0.41,"y":-0.6},{"v":0.71,"x":0.48,"y":-0.74},{"v":0.71,"x":0.56,"y":-0.82},
{"v":0.86,"x":0.41,"y":-0.91},{"v":0.86,"x":0.37,"y":-0.8},{"v":0.86,"x":0.41,"y":-0.71},{"v":0.86,"x":0.48,"y":-0.76},{"v":0.86,"x":0.55,"y":-0.83},
{"v":0.98,"x":0.43,"y":-0.9},{"v":0.98,"x":0.42,"y":-0.82},{"v":0.98,"x":0.48,"y":-0.78},{"v":0.98,"x":0.54,"y":-0.83}]
},
"vconcat":[
{"hconcat":[
{"width":336,"height":268,"data":{"name":"t1"},"mark":{"type":"line","strokeWidth":0,"stroke":null,"interpolate":"cardinal-closed","tension":0.5},"encoding":{"x":{"field":"x","type":"quantitative","axis":null,"scale":{"domain":[-148,188],"nice":false,"zero":false}},"y":{"field":"y","type":"quantitative","axis":null,"scale":{"domain":[0,268],"nice":false}},"fill":{"field":"v","type":"quantitative","legend":null,"scale":{"domain":[0,0.25,0.5,0.75,1],"range":["#033CAC","#1C66A6","#3C8F96","#55B98A","#78F873"],"interpolate":"rgb"}},"order":{"value":null}}},
{"width":364,"height":268,"data":{"name":"t2"},"mark":{"type":"line","strokeWidth":0,"stroke":null,"interpolate":"cardinal-closed","tension":0.5},"encoding":{"x":{"field":"x","type":"quantitative","axis":null,"scale":{"domain":[-176,188],"nice":false,"zero":false}},"y":{"field":"y","type":"quantitative","axis":null,"scale":{"domain":[0,268],"nice":false}},"fill":{"field":"v","type":"quantitative","legend":null,"scale":{"domain":[0,0.25,0.5,0.75,1],"range":["#033CAC","#1C66A6","#3C8F96","#55B98A","#78F873"],"interpolate":"rgb"}},"order":{"value":null}}},
{"width":364,"height":268,"data":{"name":"t3"},"mark":{"type":"line","strokeWidth":0,"stroke":null,"interpolate":"cardinal-closed","tension":0.5},"encoding":{"x":{"field":"x","type":"quantitative","axis":null,"scale":{"domain":[-176,188],"nice":false,"zero":false}},"y":{"field":"y","type":"quantitative","axis":null,"scale":{"domain":[0,268],"nice":false}},"fill":{"field":"v","type":"quantitative","legend":null,"scale":{"domain":[0,0.25,0.5,0.75,1],"range":["#033CAC","#1C66A6","#3C8F96","#55B98A","#78F873"],"interpolate":"rgb"}},"order":{"value":null}}}
],"spacing":0},
{"hconcat":[
{"width":315,"height":318,"encoding":{"x":{"field":"x","type":"quantitative","axis":{"values":[-1,-0.5,0,0.5,1],"labelExpr":"''+datum.value","tickSize":-3,"labelPadding":11},"scale":{"domain":[-1,1],"nice":false}},"y":{"field":"y","type":"quantitative","axis":{"values":[-1,-0.8,-0.6,-0.4,-0.2,0,0.2,0.4,0.6,0.8,1],"labelExpr":"''+datum.value","tickSize":-3,"labelPadding":7},"scale":{"domain":[-1,1],"nice":false}},"fill":{"field":"v","type":"quantitative","legend":null,"scale":{"domain":[0,0.25,0.5,0.75,1],"range":["#033CAC","#1C66A6","#3C8F96","#55B98A","#78F873"],"interpolate":"rgb"}}},"layer":[{"data":{"name":"d"},"mark":{"type":"point","filled":true,"shape":"circle","size":100172,"opacity":1}},{"data":{"name":"h1"},"mark":{"type":"line","strokeWidth":0,"stroke":null,"interpolate":"cardinal-closed","tension":0.5},"encoding":{"order":{"value":null}}}]},
{"width":315,"height":318,"encoding":{"x":{"field":"x","type":"quantitative","axis":{"values":[-1,-0.5,0,0.5,1],"labelExpr":"''+datum.value","tickSize":-3,"labelPadding":11},"scale":{"domain":[-1,1],"nice":false}},"y":{"field":"y","type":"quantitative","axis":{"values":[-1,-0.8,-0.6,-0.4,-0.2,0,0.2,0.4,0.6,0.8,1],"labelExpr":"''+datum.value","tickSize":-3,"labelPadding":7},"scale":{"domain":[-1,1],"nice":false}},"fill":{"field":"v","type":"quantitative","legend":null,"scale":{"domain":[0,0.25,0.5,0.75,1],"range":["#033CAC","#1C66A6","#3C8F96","#55B98A","#78F873"],"interpolate":"rgb"}}},"layer":[{"data":{"name":"d"},"mark":{"type":"point","filled":true,"shape":"circle","size":100172,"opacity":1}},{"data":{"name":"h2"},"mark":{"type":"line","strokeWidth":0,"stroke":null,"interpolate":"cardinal-closed","tension":0.5},"encoding":{"order":{"value":null}}}]},
{"width":315,"height":318,"encoding":{"x":{"field":"x","type":"quantitative","axis":{"values":[-1,-0.5,0,0.5,1],"labelExpr":"''+datum.value","tickSize":-3,"labelPadding":11},"scale":{"domain":[-1,1],"nice":false}},"y":{"field":"y","type":"quantitative","axis":{"values":[-1,-0.8,-0.6,-0.4,-0.2,0,0.2,0.4,0.6,0.8,1],"labelExpr":"''+datum.value","tickSize":-3,"labelPadding":7},"scale":{"domain":[-1,1],"nice":false}},"fill":{"field":"v","type":"quantitative","legend":null,"scale":{"domain":[0,0.25,0.5,0.75,1],"range":["#033CAC","#1C66A6","#3C8F96","#55B98A","#78F873"],"interpolate":"rgb"}}},"layer":[{"data":{"name":"d"},"mark":{"type":"point","filled":true,"shape":"circle","size":100172,"opacity":1}},{"data":{"name":"h3"},"mark":{"type":"line","strokeWidth":0,"stroke":null,"interpolate":"cardinal-closed","tension":0.5},"encoding":{"order":{"value":null}}}]}
],"spacing":24.5}
],"spacing":14}
